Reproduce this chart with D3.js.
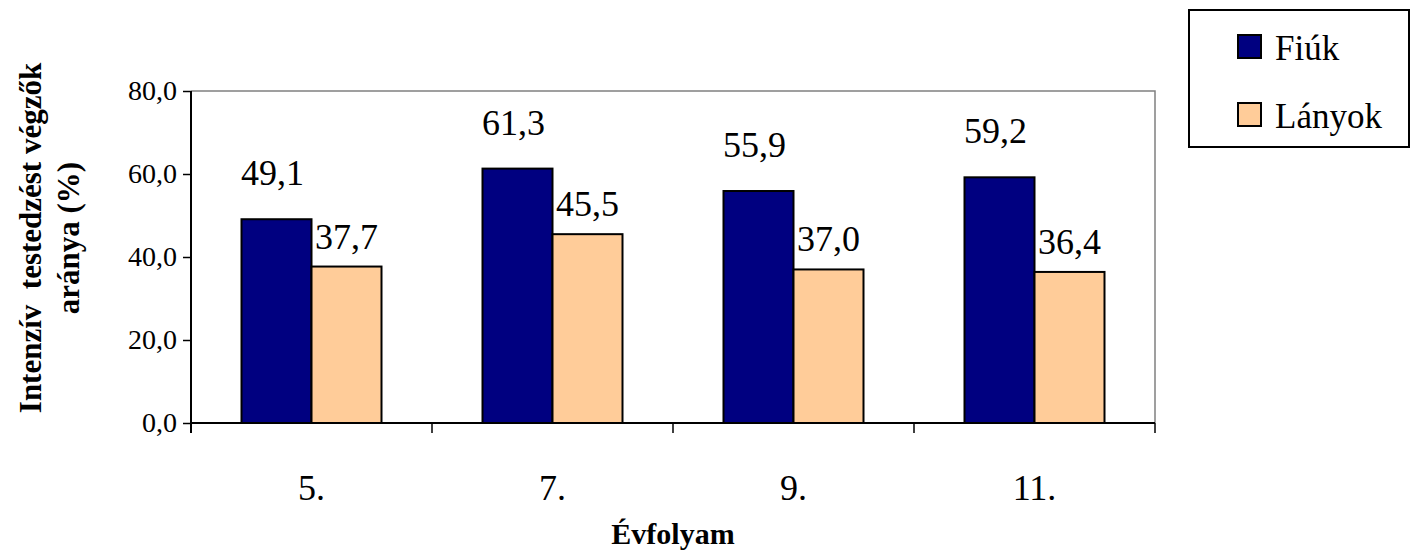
<!DOCTYPE html>
<html>
<head>
<meta charset="utf-8">
<script src="https://cdn.jsdelivr.net/npm/d3@7"></script>
<style>
body { margin: 0; background: #fff; }
</style>
</head>
<body>
<script>
var categories = ["5.", "7.", "9.", "11."];
var seriesNames = ["Fiúk", "Lányok"];
var fiuk = [49.1, 61.3, 55.9, 59.2];
var lanyok = [37.7, 45.5, 37.0, 36.4];
var yTicks = [0, 20, 40, 60, 80];
var colors = ["#000080", "#FFCC99"];

var width = 1412;
var height = 552;
var plotLeft = 191, plotRight = 1155, plotTop = 91, plotBottom = 423;
var serif = "font-family: 'Liberation Serif', 'Times New Roman', serif";

var svg = d3.select("body").append("svg")
    .attr("width", width)
    .attr("height", height);

var xScale = d3.scaleBand().domain(categories).range([plotLeft, plotRight]);
var yScale = d3.scaleLinear().domain([0, 80]).range([plotBottom, plotTop]);
var barW = 70;
var labelGap = [34, 18];

// plot border (top and right gray)
svg.append("path")
    .attr("d", "M" + plotLeft + "," + plotTop + "H" + plotRight + "V" + plotBottom)
    .attr("fill", "none")
    .attr("stroke", "#808080")
    .attr("stroke-width", 1.5);

var data = [];
categories.forEach(function (c, i) {
    data.push({ cat: c, s: 0, v: fiuk[i] });
    data.push({ cat: c, s: 1, v: lanyok[i] });
});

function barX(d) {
    var mid = xScale(d.cat) + xScale.bandwidth() / 2;
    return d.s === 0 ? mid - barW : mid;
}

svg.selectAll("rect.bar")
    .data(data)
    .enter().append("rect")
    .attr("class", "bar")
    .attr("x", barX)
    .attr("y", d => yScale(d.v))
    .attr("width", barW)
    .attr("height", d => yScale(0) - yScale(d.v))
    .attr("fill", d => colors[d.s])
    .attr("stroke", "#000")
    .attr("stroke-width", 2);

svg.selectAll("text.val")
    .data(data)
    .enter().append("text")
    .attr("class", "val")
    .attr("style", serif)
    .attr("x", d => barX(d) + barW / 2 - (d.s === 0 ? 4 : 0))
    .attr("y", d => yScale(d.v) - labelGap[d.s])
    .attr("text-anchor", "middle")
    .attr("font-size", 36)
    .text(d => d3.format(".1f")(d.v).replace(".", ","));

// y axis
var yAxis = d3.axisLeft(yScale).tickValues(yTicks).tickSize(8).tickPadding(6)
    .tickFormat(d => d3.format(".1f")(d).replace(".", ","));
var gy = svg.append("g")
    .attr("transform", "translate(" + plotLeft + ",0)")
    .call(yAxis);
gy.select(".domain").attr("stroke", "#000").attr("stroke-width", 2).attr("d", "M0," + plotTop + "V" + (plotBottom + 10));
gy.selectAll(".tick line").attr("stroke", "#000").attr("stroke-width", 1.5);
gy.selectAll(".tick text").attr("style", serif).attr("font-size", 28).attr("fill", "#000");

// x axis
var xAxis = d3.axisBottom(xScale).tickSize(0).tickPadding(51);
var gx = svg.append("g")
    .attr("transform", "translate(0," + plotBottom + ")")
    .call(xAxis);
gx.select(".domain").attr("stroke", "#000").attr("stroke-width", 2).attr("d", "M" + plotLeft + ",0H" + plotRight);
gx.selectAll(".tick text").attr("style", serif).attr("font-size", 36).attr("fill", "#000");

// band boundary ticks
var bounds = categories.map(c => xScale(c)).concat([plotRight]);
svg.selectAll("line.bt")
    .data(bounds)
    .enter().append("line")
    .attr("x1", d => d).attr("x2", d => d)
    .attr("y1", plotBottom).attr("y2", plotBottom + 10)
    .attr("stroke", "#000").attr("stroke-width", 1.5);

// axis titles
svg.append("text")
    .attr("style", serif)
    .attr("x", (plotLeft + plotRight) / 2)
    .attr("y", 544)
    .attr("text-anchor", "middle")
    .attr("font-size", 30)
    .attr("font-weight", "bold")
    .text("Évfolyam");

var yt = svg.append("text")
    .attr("style", serif)
    .attr("transform", "translate(41,238) rotate(-90)")
    .attr("text-anchor", "middle")
    .attr("font-size", 31)
    .attr("font-weight", "bold");
yt.append("tspan").attr("x", 0).attr("y", 0).attr("xml:space", "preserve").text("Intenzív  testedzést végzők");
yt.append("tspan").attr("x", 0).attr("y", 38).text("aránya (%)");

// legend
var lg = svg.append("g");
lg.append("rect")
    .attr("x", 1189).attr("y", 10)
    .attr("width", 220).attr("height", 137)
    .attr("fill", "#fff")
    .attr("stroke", "#000")
    .attr("stroke-width", 2);
seriesNames.forEach(function (n, i) {
    lg.append("rect")
        .attr("x", 1238).attr("y", 35 + i * 68)
        .attr("width", 23).attr("height", 23)
        .attr("fill", colors[i])
        .attr("stroke", "#000")
        .attr("stroke-width", 2);
    lg.append("text")
        .attr("style", serif)
        .attr("x", 1275).attr("y", 60 + i * 68)
        .attr("font-size", 35)
        .text(n);
});
</script>
</body>
</html>
